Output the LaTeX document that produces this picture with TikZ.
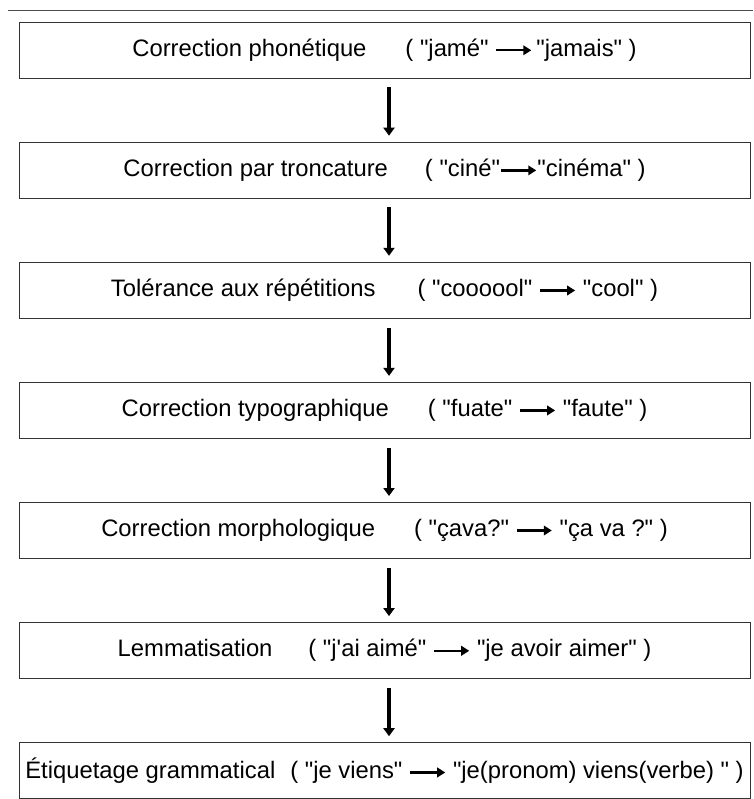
\documentclass[tikz,border=0pt]{standalone}
\usepackage{fontspec}
\newfontfamily\arial{Liberation Sans}
\usetikzlibrary{arrows.meta,positioning}

% petite fleche dans le texte
\newcommand{\fleche}{\tikz[baseline=-6pt]\draw[line width=2.3pt,-{Triangle[length=8pt,width=9.5pt]}] (0,0) -- (35pt,0);}

\begin{document}
\begin{tikzpicture}[
            x=1pt, y=1pt,
            node distance=63.3pt,
            etape/.style={rectangle, draw=black!80, line width=0.8pt, minimum width=731pt, minimum height=56pt, inner sep=0pt, align=center, font=\arial\fontsize{23.8pt}{28pt}\selectfont},
            arrow/.style={-{Triangle[length=8pt,width=11pt]}, line width=3.5pt}
        ]
            \useasboundingbox (0,0) rectangle (753,-799);
            \draw[black!70, line width=1pt] (8,-11) -- (753,-11);

            % Etapes
            \node[etape] (phon) at (384.5,-50) {Correction phonétique\hspace{39pt}( "jamé" \fleche\,"jamais" )};
            \node[etape, below=of phon] (tronc) {Correction par troncature\hspace{37pt}( "ciné"\fleche"cinéma" )};
            \node[etape, below=of tronc] (rep) {Tolérance aux répétitions\hspace{42pt}( "coooool" \fleche{} "cool" )};
            \node[etape, below=of rep] (typo) {Correction typographique\hspace{39pt}( "fuate" \fleche{} "faute" )};
            \node[etape, below=of typo] (morph) {Correction morphologique\hspace{39pt}( "çava?" \fleche{} "ça va ?" )};
            \node[etape, below=of morph] (lemme) {Lemmatisation\hspace{36pt}( "j'ai aimé" \fleche{} "je avoir aimer" )};
            \node[etape, below=of lemme] (etiq) {Étiquetage grammatical\hspace{15pt}( "je viens" \fleche{} "je(pronom) viens(verbe) " )};

            % Fleches
            \foreach \a/\b in {phon/tronc, tronc/rep, rep/typo, typo/morph, morph/lemme, lemme/etiq}
                \draw[arrow] ([xshift=4.5pt,yshift=-9pt]\a.south) -- ([xshift=4.5pt,yshift=6pt]\b.north);
        \end{tikzpicture}
\end{document}
